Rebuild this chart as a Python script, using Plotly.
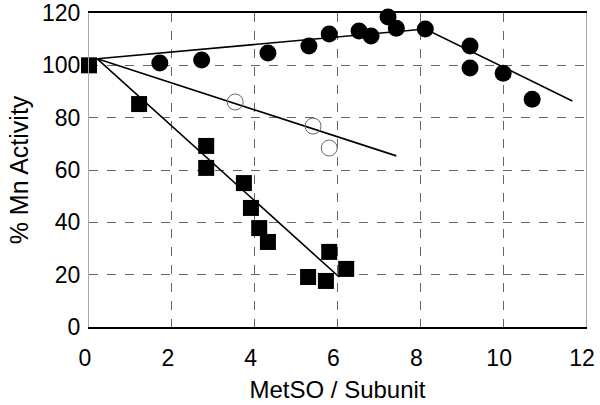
import plotly.graph_objects as go

# Squares (filled)
sq_x = [0.0, 1.21, 2.83, 2.83, 3.74, 3.91, 4.11, 4.32, 5.29, 5.72, 5.80, 6.21]
sq_y = [100, 85.2, 69.2, 60.8, 55.0, 45.5, 37.8, 32.5, 19.1, 17.6, 28.7, 22.2]

# Open circles
oc_x = [3.53, 5.41, 5.80]
oc_y = [86.0, 76.8, 68.4]

# Filled circles
fc_x = [1.71, 2.72, 4.32, 5.31, 5.80, 6.52, 6.81, 7.22, 7.42, 8.12, 9.20, 9.20, 10.0, 10.7]
fc_y = [100.9, 102.0, 104.7, 107.4, 112.0, 113.1, 111.2, 118.5, 114.2, 113.9, 107.4, 99.0, 97.0, 87.0]

# Fit lines
sq_line_x = [0.2, 6.04]
sq_line_y = [102.5, 19.1]
oc_line_x = [0.2, 7.42]
oc_line_y = [102.5, 65.4]
fc_line_x = [0.2, 8.12, 11.67]
fc_line_y = [102.5, 113.9, 86.4]

x_ticks = [0, 2, 4, 6, 8, 10, 12]
y_ticks = [0, 20, 40, 60, 80, 100, 120]

FONT = "Liberation Sans, Arial, sans-serif"

fig = go.Figure()
for lx, ly in [(sq_line_x, sq_line_y), (oc_line_x, oc_line_y), (fc_line_x, fc_line_y)]:
    fig.add_trace(go.Scatter(x=lx, y=ly, mode="lines", cliponaxis=False,
                             line=dict(color="black", width=1.6), hoverinfo="skip"))

fig.add_trace(go.Scatter(x=sq_x, y=sq_y, mode="markers", cliponaxis=False,
                         marker=dict(symbol="square", size=16, color="black",
                                     line=dict(width=0))))
fig.add_trace(go.Scatter(x=oc_x, y=oc_y, mode="markers", cliponaxis=False,
                         marker=dict(symbol="circle-open", size=16, color="#666",
                                     line=dict(width=1, color="#666"))))
fig.add_trace(go.Scatter(x=fc_x, y=fc_y, mode="markers", cliponaxis=False,
                         marker=dict(symbol="circle", size=17, color="black",
                                     line=dict(width=0))))

fig.update_layout(
    width=600, height=405,
    margin=dict(l=89, r=14, t=13, b=78),
    paper_bgcolor="white", plot_bgcolor="white",
    showlegend=False,
    font=dict(family=FONT, color="black", size=23),
)
fig.update_xaxes(
    range=[0, 12], tickvals=x_ticks, ticktext=[str(v) for v in x_ticks],
    automargin=False, ticklabeloverflow="allow", ticklabelshift=-4,
    showgrid=True, gridcolor="#666", griddash="dash", gridwidth=1,
    showline=True, linecolor="black", linewidth=1.5, mirror=True,
    zeroline=False, ticks="", tickfont=dict(size=23), ticklabelstandoff=10,
    title=dict(text="MetSO / Subunit", font=dict(size=24), standoff=11),
)
fig.update_yaxes(
    range=[0, 120], tickvals=y_ticks, ticktext=[str(v) for v in y_ticks],
    automargin=False, ticklabeloverflow="allow",
    showgrid=True, gridcolor="#666", griddash="dash", gridwidth=1,
    showline=True, linecolor="#aaa", linewidth=1, mirror=True,
    zeroline=False, ticks="", tickfont=dict(size=23), ticklabelstandoff=3,
    title=dict(text="% Mn Activity", font=dict(size=25), standoff=6),
)

# Remove the default 8px page margin so the 600x405 figure fills the window.
fig.write_html("out.html", config={"displayModeBar": False},
               post_script="document.body.style.margin='0';")
